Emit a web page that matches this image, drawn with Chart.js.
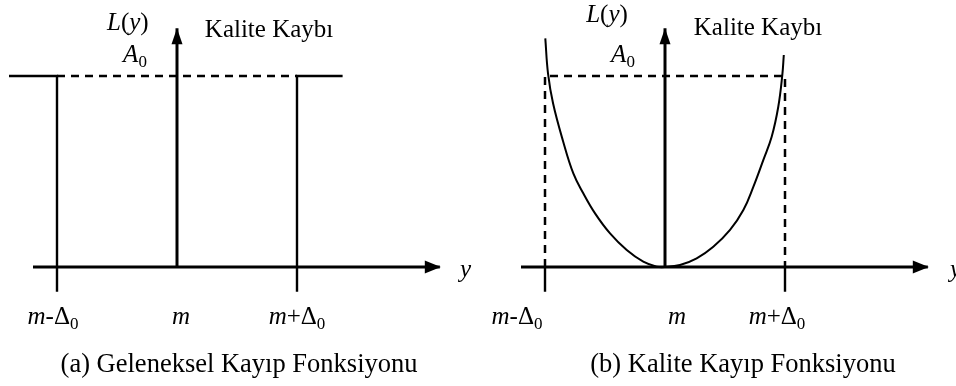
<!DOCTYPE html>
<html>
<head>
<meta charset="utf-8">
<script src="https://cdn.jsdelivr.net/npm/chart.js@4/dist/chart.umd.min.js"></script>
<style>
  body { margin: 0; background: #fff; }
  #wrap { display: flex; width: 956px; height: 386px; }
  canvas { display: block; }
</style>
</head>
<body>
<div id="wrap">
  <canvas id="chartA" width="480" height="386"></canvas>
  <canvas id="chartB" width="476" height="386"></canvas>
</div>
<script>
// values, in units of Δ0 (x) and A0 (y), m = 0
var tickValues = [-1, 0, 1]
var tickLabels = ['*m*-Δ_0', '*m*', '*m*+Δ_0']
var A0 = 1
var tickDrop = -0.13

// axes extents
var axisX = [-1.2, 2.19]
var axisY = [0, 1.25]

// (a) traditional loss: step outside the tolerance
var stepLeftX = [-1.4, -1, -1]
var stepLeftY = [A0, A0, tickDrop]
var stepRightX = [1, 1, 1.38]
var stepRightY = [tickDrop, A0, A0]

// (b) quality loss curve
var lossX = [-0.9975, -0.975, -0.933, -0.85, -0.764, -0.681, -0.583, -0.458, -0.319, -0.181, -0.069, 0, 0.125, 0.264, 0.4025, 0.542, 0.653, 0.736, 0.819, 0.889, 0.944, 0.9775, 0.99]
var lossY = [1.197, 1.014, 0.857, 0.66, 0.49, 0.386, 0.281, 0.176, 0.089, 0.028, 0.002, 0, 0.0105, 0.0455, 0.106, 0.194, 0.298, 0.42, 0.56, 0.682, 0.839, 1.005, 1.11]

function pts (xs, ys) {
  return xs.map(function (x, i) { return { x: x, y: ys[i] } })
}

function lineSet (data, width, dash) {
  return {
    data: data,
    borderColor: '#000',
    borderWidth: width,
    borderDash: dash || [],
    pointRadius: 0,
    fill: false,
    showLine: true,
    spanGaps: false,
    borderCapStyle: 'butt'
  }
}

var FONT = '"Liberation Serif", "Times New Roman", serif'

// draws "*m*-Δ_0" : *..* italic, _x subscript
function drawRich (ctx, str, x, y, align, size) {
  size = size || 25
  var parts = []
  var italic = false
  for (var i = 0; i < str.length; i++) {
    var c = str[i]
    if (c === '*') { italic = !italic; continue }
    if (c === '_') { parts.push({ t: str[i + 1], i: false, s: true }); i++; continue }
    parts.push({ t: c, i: italic, s: false })
  }
  var total = 0
  parts.forEach(function (p) {
    ctx.font = (p.i ? 'italic ' : '') + (p.s ? Math.round(size * 0.66) : size) + 'px ' + FONT
    p.w = ctx.measureText(p.t).width
    total += p.w
  })
  var cx = align === 'left' ? x : x - total / 2
  ctx.textBaseline = 'alphabetic'
  ctx.textAlign = 'left'
  ctx.fillStyle = '#000'
  parts.forEach(function (p) {
    ctx.font = (p.i ? 'italic ' : '') + (p.s ? Math.round(size * 0.66) : size) + 'px ' + FONT
    ctx.fillText(p.t, cx, y + (p.s ? size * 0.2 : 0))
    cx += p.w
  })
}

var annotate = {
  id: 'annotate',
  afterDatasetsDraw: function (chart, args, opts) {
    var ctx = chart.ctx
    var xs = chart.scales.x
    var ys = chart.scales.y
    ctx.save()
    // arrowheads
    ctx.fillStyle = '#000'
    var tx = xs.getPixelForValue(axisX[1]) + 1
    var ty = ys.getPixelForValue(0)
    ctx.beginPath()
    ctx.moveTo(tx, ty)
    ctx.lineTo(tx - 16, ty - 6.5)
    ctx.lineTo(tx - 16, ty + 6.5)
    ctx.closePath()
    ctx.fill()
    var ux = xs.getPixelForValue(0)
    var uy = ys.getPixelForValue(axisY[1])
    ctx.beginPath()
    ctx.moveTo(ux, uy)
    ctx.lineTo(ux - 5.5, uy + 16)
    ctx.lineTo(ux + 5.5, uy + 16)
    ctx.closePath()
    ctx.fill()

    // tick labels
    var base = ys.getPixelForValue(-0.3)
    tickValues.forEach(function (v, i) {
      drawRich(ctx, tickLabels[i], xs.getPixelForValue(v) + opts.tickShift[i], base, 'center')
    })
    opts.texts.forEach(function (t) {
      drawRich(ctx, t.text, xs.getPixelForValue(t.x), ys.getPixelForValue(t.y), t.align || 'center', t.size)
    })
    ctx.restore()
  }
}

function makeChart (id, xMin, xMax, datasets, opts) {
  return new Chart(document.getElementById(id).getContext('2d'), {
    type: 'scatter',
    data: { datasets: datasets },
    options: {
      responsive: false,
      animation: false,
      devicePixelRatio: 1,
      layout: { padding: 0 },
      scales: {
        x: { type: 'linear', display: false, min: xMin, max: xMax },
        y: { type: 'linear', display: false, min: -0.623, max: 1.398 }
      },
      plugins: { legend: { display: false }, tooltip: { enabled: false }, annotate: opts }
    },
    plugins: [annotate]
  })
}

var xAxis = pts(axisX, [0, 0])
var yAxis = pts([0, 0], axisY)

makeChart('chartA', -1.475, 2.525, [
  lineSet(xAxis, 3),
  lineSet(yAxis, 3),
  lineSet(pts(stepLeftX, stepLeftY), 2.4),
  lineSet(pts(stepRightX, stepRightY), 2.4),
  lineSet(pts([-1, 1], [A0, A0]), 2.5, [8, 6])
], {
  tickShift: [-4, 4, 0],
  texts: [
    { text: '*L*(*y*)', x: -0.41, y: 1.241 },
    { text: '*A*_0', x: -0.35, y: 1.073 },
    { text: 'Kalite Kaybı', x: 0.767, y: 1.204 },
    { text: '*y*', x: 2.358, y: -0.052, align: 'left' },
    { text: '(a) Geleneksel Kayıp Fonksiyonu', x: 0.517, y: -0.55, size: 26.5 }
  ]
})

makeChart('chartB', -1.5417, 2.425, [
  lineSet(xAxis, 3),
  lineSet(yAxis, 3),
  lineSet(pts([-1, -1, 1, 1], [0, A0, A0, 0]), 2.5, [8, 6]),
  lineSet(pts([-1, -1, null, 1, 1], [0, tickDrop, null, 0, tickDrop]), 2.4),
  Object.assign(lineSet(pts(lossX, lossY), 2), { tension: 0.4 })
], {
  tickShift: [-28, 12, -8],
  texts: [
    { text: '*L*(*y*)', x: -0.483, y: 1.283 },
    { text: '*A*_0', x: -0.35, y: 1.073 },
    { text: 'Kalite Kaybı', x: 0.775, y: 1.215 },
    { text: '*y*', x: 2.375, y: -0.052, align: 'left' },
    { text: '(b) Kalite Kayıp Fonksiyonu', x: 0.65, y: -0.55, size: 26.5 }
  ]
})
</script>
</body>
</html>
